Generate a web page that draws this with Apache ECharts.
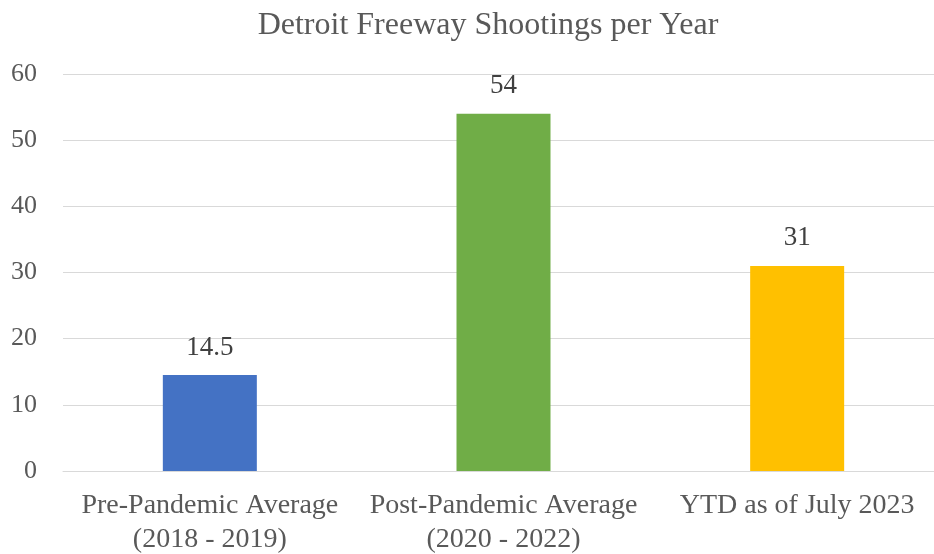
<!DOCTYPE html>
<html><head><meta charset="utf-8">
<script src="https://cdn.jsdelivr.net/npm/echarts@6/dist/echarts.min.js"></script>
<style>html,body{margin:0;padding:0;background:#fff}#c{width:934px;height:554px}</style>
</head><body><div id="c"></div>
<script>
const title = 'Detroit Freeway Shootings per Year';
const categories = ['Pre-Pandemic Average\n(2018 - 2019)', 'Post-Pandemic Average\n(2020 - 2022)', 'YTD as of July 2023'];
const values = [14.5, 54, 31];
const colors = ['#4472C4', '#70AD47', '#FFC000'];
const font = '"Liberation Serif","Times New Roman",serif';
const chart = echarts.init(document.getElementById('c'));
chart.setOption({
  animation: false,
  title: { text: title, left: 483, textAlign: 'center', top: 5, textStyle: { fontFamily: font, fontSize: 32, fontWeight: 'normal', color: '#595959' } },
  grid: { left: 63, top: 74, width: 881, bottom: 83, outerBoundsMode: 'none', containLabel: false },
  xAxis: { type: 'category', data: categories,
    axisLine: { lineStyle: { color: '#D9D9D9', width: 1 } }, axisTick: { show: false },
    axisLabel: { fontFamily: font, fontSize: 28, color: '#595959', lineHeight: 34, margin: 18, interval: 0 } },
  yAxis: { type: 'value', min: 0, max: 60, interval: 10,
    axisLine: { show: false }, axisTick: { show: false },
    splitLine: { lineStyle: { color: '#D9D9D9', width: 1 } },
    axisLabel: { fontFamily: font, fontSize: 26, color: '#595959', margin: 26 } },
  series: [{ type: 'bar', barWidth: 94,
    data: values.map((v, i) => ({ value: v, itemStyle: { color: colors[i] } })),
    label: { show: true, position: 'top', distance: 14, fontFamily: font, fontSize: 27, color: '#404040' } }]
});
</script></body></html>
